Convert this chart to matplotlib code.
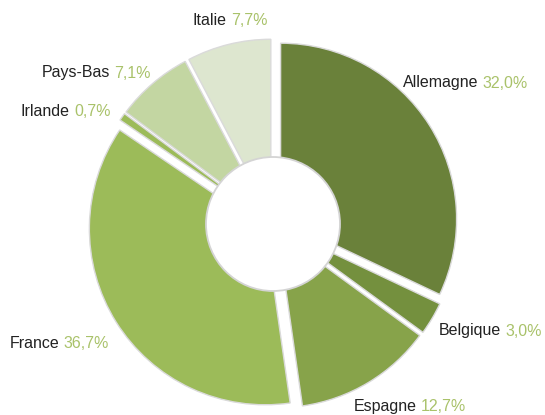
import matplotlib.pyplot as plt
from matplotlib.patches import Circle

# shares by country (percent), clockwise from 12 o'clock
countries = ["Allemagne", "Belgique", "Espagne", "France", "Irlande", "Pays-Bas", "Italie"]
shares = [32.0, 3.0, 12.7, 36.7, 0.7, 7.1, 7.7]
share_labels = ["32,0%", "3,0%", "12,7%", "36,7%", "0,7%", "7,1%", "7,7%"]

colors = ["#6a813a", "#74903e", "#87a34a", "#9cbb59", "#9cbb59", "#c3d6a2", "#dde6cf"]
# label anchor (left x, centre y) in pixels from the top-left corner
label_pos = [(403, 83), (439, 331), (354, 406), (10, 343), (21, 112), (42, 73), (193, 21)]

W, H = 545, 415
fig = plt.figure(figsize=(W / 100, H / 100), dpi=100)
ax = fig.add_axes([0, 0, 1, 1])

cx, cy = 273, H - 224
radius = 176
wedges, _ = ax.pie(shares, colors=colors, startangle=90, counterclock=False,
                   center=(cx, cy), radius=radius, explode=[9] * len(shares),
                   wedgeprops=dict(edgecolor="#dadada", linewidth=1.0))
ax.set_xlim(0, W)
ax.set_ylim(0, H)
ax.set_aspect("equal")
ax.axis("off")

# donut hole
ax.add_patch(Circle((cx, cy), 67, facecolor="white", edgecolor="#d4d4d4", linewidth=1.3, zorder=5))

for name, pct, (x, y) in zip(countries, share_labels, label_pos):
    t = ax.text(x, H - y, name, ha="left", va="center", fontsize=11.5,
                family="Liberation Sans", color="#222222")
    ax.annotate(pct, xy=(1, 0), xycoords=t, xytext=(3, 0), textcoords="offset points",
                ha="left", va="bottom", fontsize=11.5, family="Liberation Sans",
                color="#a9c26a")

fig.savefig("out.png", dpi=100)
